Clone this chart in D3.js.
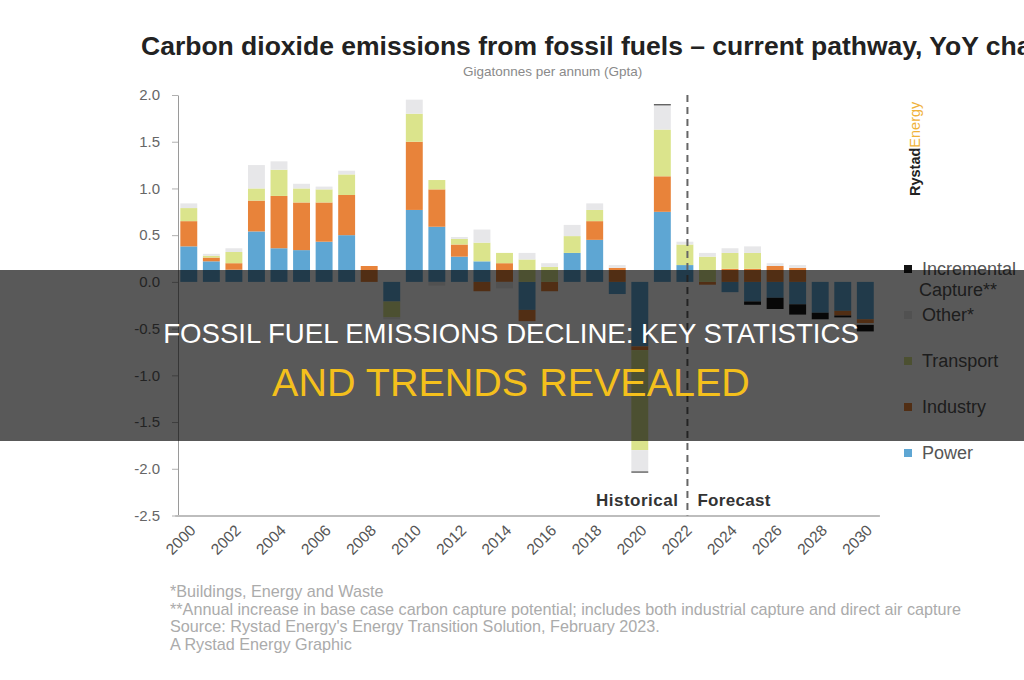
<!DOCTYPE html>
<html lang="en">
<head>
<meta charset="UTF-8">
<title>Carbon dioxide emissions from fossil fuels - YoY change</title>
<script src="https://cdn.jsdelivr.net/npm/d3@7"></script>
<style>
    body { margin: 0; background: #fff; }
    svg { display: block; font-family: 'Liberation Sans', Arial, sans-serif; }
</style>
</head>
<body>
<div id="chart"></div>
<script>
// data, Gt per annum change year on year
var years = [2000, 2001, 2002, 2003, 2004, 2005, 2006, 2007, 2008, 2009, 2010,
             2011, 2012, 2013, 2014, 2015, 2016, 2017, 2018, 2019, 2020,
             2021, 2022, 2023, 2024, 2025, 2026, 2027, 2028, 2029, 2030];
var power     = [0.38, 0.22, 0.13, 0.54, 0.36, 0.34, 0.43, 0.50, 0.00, -0.21, 0.77,
                 0.59, 0.27, 0.22, 0.00, -0.30, 0.00, 0.31, 0.45, -0.13, -0.69,
                 0.75, 0.18, 0.00, -0.11, -0.21, -0.17, -0.24, -0.33, -0.31, -0.40];
var industry  = [0.27, 0.04, 0.07, 0.33, 0.56, 0.51, 0.42, 0.43, 0.17, 0.00, 0.73,
                 0.40, 0.13, -0.10, 0.20, -0.12, -0.10, 0.00, 0.20, 0.15, -0.04,
                 0.38, 0.00, -0.03, 0.14, 0.14, 0.17, 0.15, 0.00, -0.05, -0.04];
var transport = [0.14, 0.02, 0.12, 0.13, 0.28, 0.15, 0.14, 0.22, 0.00, -0.17, 0.30,
                 0.10, 0.06, 0.20, 0.11, 0.24, 0.16, 0.18, 0.12, 0.00, -1.07,
                 0.50, 0.22, 0.27, 0.17, 0.17, 0.00, 0.00, 0.00, 0.00, 0.00];
var other     = [0.05, 0.02, 0.04, 0.25, 0.09, 0.05, 0.03, 0.04, 0.00, -0.02, 0.15,
                 -0.04, 0.02, 0.14, -0.07, 0.07, 0.04, 0.12, 0.07, 0.03, -0.23,
                 0.26, 0.03, 0.04, 0.05, 0.07, 0.03, 0.03, 0.00, 0.00, -0.02];
var capture   = [0, 0, 0, 0, 0, 0, 0, 0, 0, 0, 0,
                 0, 0, 0, 0, 0, 0, 0, 0, 0, -0.01,
                 0.01, 0, 0, 0, -0.035, -0.12, -0.11, -0.07, -0.02, -0.07];

var yTicks = [2.0, 1.5, 1.0, 0.5, 0.0, -0.5, -1.0, -1.5, -2.0, -2.5];
var xTickYears = [2000, 2002, 2004, 2006, 2008, 2010, 2012, 2014, 2016, 2018, 2020,
                  2022, 2024, 2026, 2028, 2030];
var legendLabels = [['Incremental', 'Capture**'], ['Other*'], ['Transport'], ['Industry'], ['Power']];
var footnotes = [
    '*Buildings, Energy and Waste',
    '**Annual increase in base case carbon capture potential; includes both industrial capture and direct air capture',
    "Source: Rystad Energy's Energy Transition Solution, February 2023.",
    'A Rystad Energy Graphic'
];

var width = 1024, height = 680;

var svg = d3.select('#chart').append('svg')
    .attr('width', width)
    .attr('height', height);

var keys = ['power', 'industry', 'transport', 'other', 'capture'];
var colors = {
    power: '#5ea6d3',
    industry: '#e8833a',
    transport: '#dbe48c',
    other: '#e7e7e9',
    capture: '#141414'
};

var rows = years.map(function(yr, i) {
    return { year: yr, power: power[i], industry: industry[i], transport: transport[i],
             other: other[i], capture: capture[i] };
});

var x = d3.scaleBand()
    .domain(years)
    .range([174.7, 879.4])
    .paddingInner(0.25)
    .paddingOuter(0.25);

var y = d3.scaleLinear()
    .domain([-2.5, 2.0])
    .range([515.5, 95]);

// title (runs off the right edge, as in the original graphic)
svg.append('text')
    .attr('x', 141)
    .attr('y', 55)
    .style('font-size', '26.5px')
    .style('font-weight', 'bold')
    .style('fill', '#222')
    .text('Carbon dioxide emissions from fossil fuels \u2013 current pathway, YoY change');

svg.append('text')
    .attr('x', 463)
    .attr('y', 76)
    .style('font-size', '13.5px')
    .style('fill', '#8a8a8a')
    .text('Gigatonnes per annum (Gpta)');

// stacked bars, positives up and negatives down
var layers = d3.stack().keys(keys).offset(d3.stackOffsetDiverging)(rows);

svg.append('g')
    .selectAll('g')
    .data(layers)
    .join('g')
    .attr('fill', function(d) { return colors[d.key]; })
    .selectAll('rect')
    .data(function(d) { return d; })
    .join('rect')
    .attr('x', function(d) { return x(d.data.year); })
    .attr('width', x.bandwidth())
    .attr('y', function(d) { return y(Math.max(d[0], d[1])); })
    .attr('height', function(d) { return Math.abs(y(d[0]) - y(d[1])); });

// y axis
var yAxis = svg.append('g')
    .attr('transform', 'translate(178,0)')
    .call(d3.axisLeft(y).tickValues(yTicks).tickSize(6).tickSizeOuter(0).tickPadding(12)
        .tickFormat(function(d) { return d.toFixed(1); }));
yAxis.select('.domain').attr('stroke', '#9a9a9a');
yAxis.selectAll('.tick line').attr('stroke', '#b0b0b0');
yAxis.selectAll('.tick text')
    .style('font-size', '15px')
    .style('fill', '#666')
    .style('font-family', "'Liberation Sans', Arial, sans-serif");

// x axis at the bottom
var xAxis = svg.append('g')
    .attr('transform', 'translate(0,' + y(-2.5) + ')')
    .call(d3.axisBottom(x).tickValues(xTickYears).tickSize(0).tickSizeOuter(0));
xAxis.select('.domain').attr('stroke', '#bdbdbd').attr('stroke-width', 2);
xAxis.selectAll('.tick text')
    .attr('x', 0)
    .attr('y', 0)
    .attr('dy', '0.35em')
    .attr('transform', 'translate(4,12) rotate(-45)')
    .style('text-anchor', 'end')
    .style('font-size', '15.5px')
    .style('fill', '#555')
    .style('font-family', "'Liberation Sans', Arial, sans-serif");

// historical / forecast divider
var splitX = x(2022) + x.bandwidth() * 0.65;
svg.append('line')
    .attr('x1', splitX).attr('x2', splitX)
    .attr('y1', y(2.0)).attr('y2', y(-2.5))
    .attr('stroke', '#666')
    .attr('stroke-width', 2)
    .attr('stroke-dasharray', '7,5');

svg.append('text')
    .attr('x', splitX - 9)
    .attr('y', 506)
    .attr('text-anchor', 'end')
    .style('font-size', '17px')
    .style('font-weight', 'bold')
    .style('letter-spacing', '0.5px')
    .style('fill', '#333')
    .text('Historical');

svg.append('text')
    .attr('x', splitX + 10)
    .attr('y', 506)
    .style('font-size', '17px')
    .style('font-weight', 'bold')
    .style('letter-spacing', '0.3px')
    .style('fill', '#333')
    .text('Forecast');

// legend (top to bottom: capture, other, transport, industry, power)
var legendKeys = ['capture', 'other', 'transport', 'industry', 'power'];
var legend = svg.append('g').attr('transform', 'translate(904,269)');
legendKeys.forEach(function(k, i) {
    var item = legend.append('g').attr('transform', 'translate(0,' + (i * 46) + ')');
    item.append('rect')
        .attr('x', 0).attr('y', -4)
        .attr('width', 8).attr('height', 8)
        .attr('fill', colors[k]);
    var t = item.append('text')
        .attr('y', 0)
        .style('font-size', '18px')
        .style('fill', '#555');
    legendLabels[i].forEach(function(line, j) {
        t.append('tspan')
            .attr('x', j === 0 ? 18 : 15)
            .attr('dy', j === 0 ? '0.35em' : '1.15em')
            .text(line);
    });
});

// logo text
var logo = svg.append('text')
    .attr('transform', 'translate(920,196) rotate(-90)')
    .style('font-size', '14.5px');
logo.append('tspan').style('font-weight', 'bold').style('fill', '#222').text('Rystad');
logo.append('tspan').style('fill', '#f0b23a').text('Energy');

// footnotes
svg.append('g')
    .selectAll('text')
    .data(footnotes)
    .join('text')
    .attr('x', 170)
    .attr('y', function(d, i) { return 597 + i * 17.5; })
    .style('font-size', '16.2px')
    .style('fill', '#ababab')
    .text(function(d) { return d; });

// dark banner over the chart
svg.append('rect')
    .attr('x', 0)
    .attr('y', 270)
    .attr('width', width)
    .attr('height', 171)
    .attr('fill', '#000')
    .attr('opacity', 0.65);

svg.append('text')
    .attr('x', 511)
    .attr('y', 343)
    .attr('text-anchor', 'middle')
    .style('font-size', '27.6px')
    .style('fill', '#fff')
    .text('FOSSIL FUEL EMISSIONS DECLINE: KEY STATISTICS');

svg.append('text')
    .attr('x', 511)
    .attr('y', 396)
    .attr('text-anchor', 'middle')
    .style('font-size', '39.5px')
    .style('fill', '#f4c01c')
    .text('AND TRENDS REVEALED');
</script>
</body>
</html>
